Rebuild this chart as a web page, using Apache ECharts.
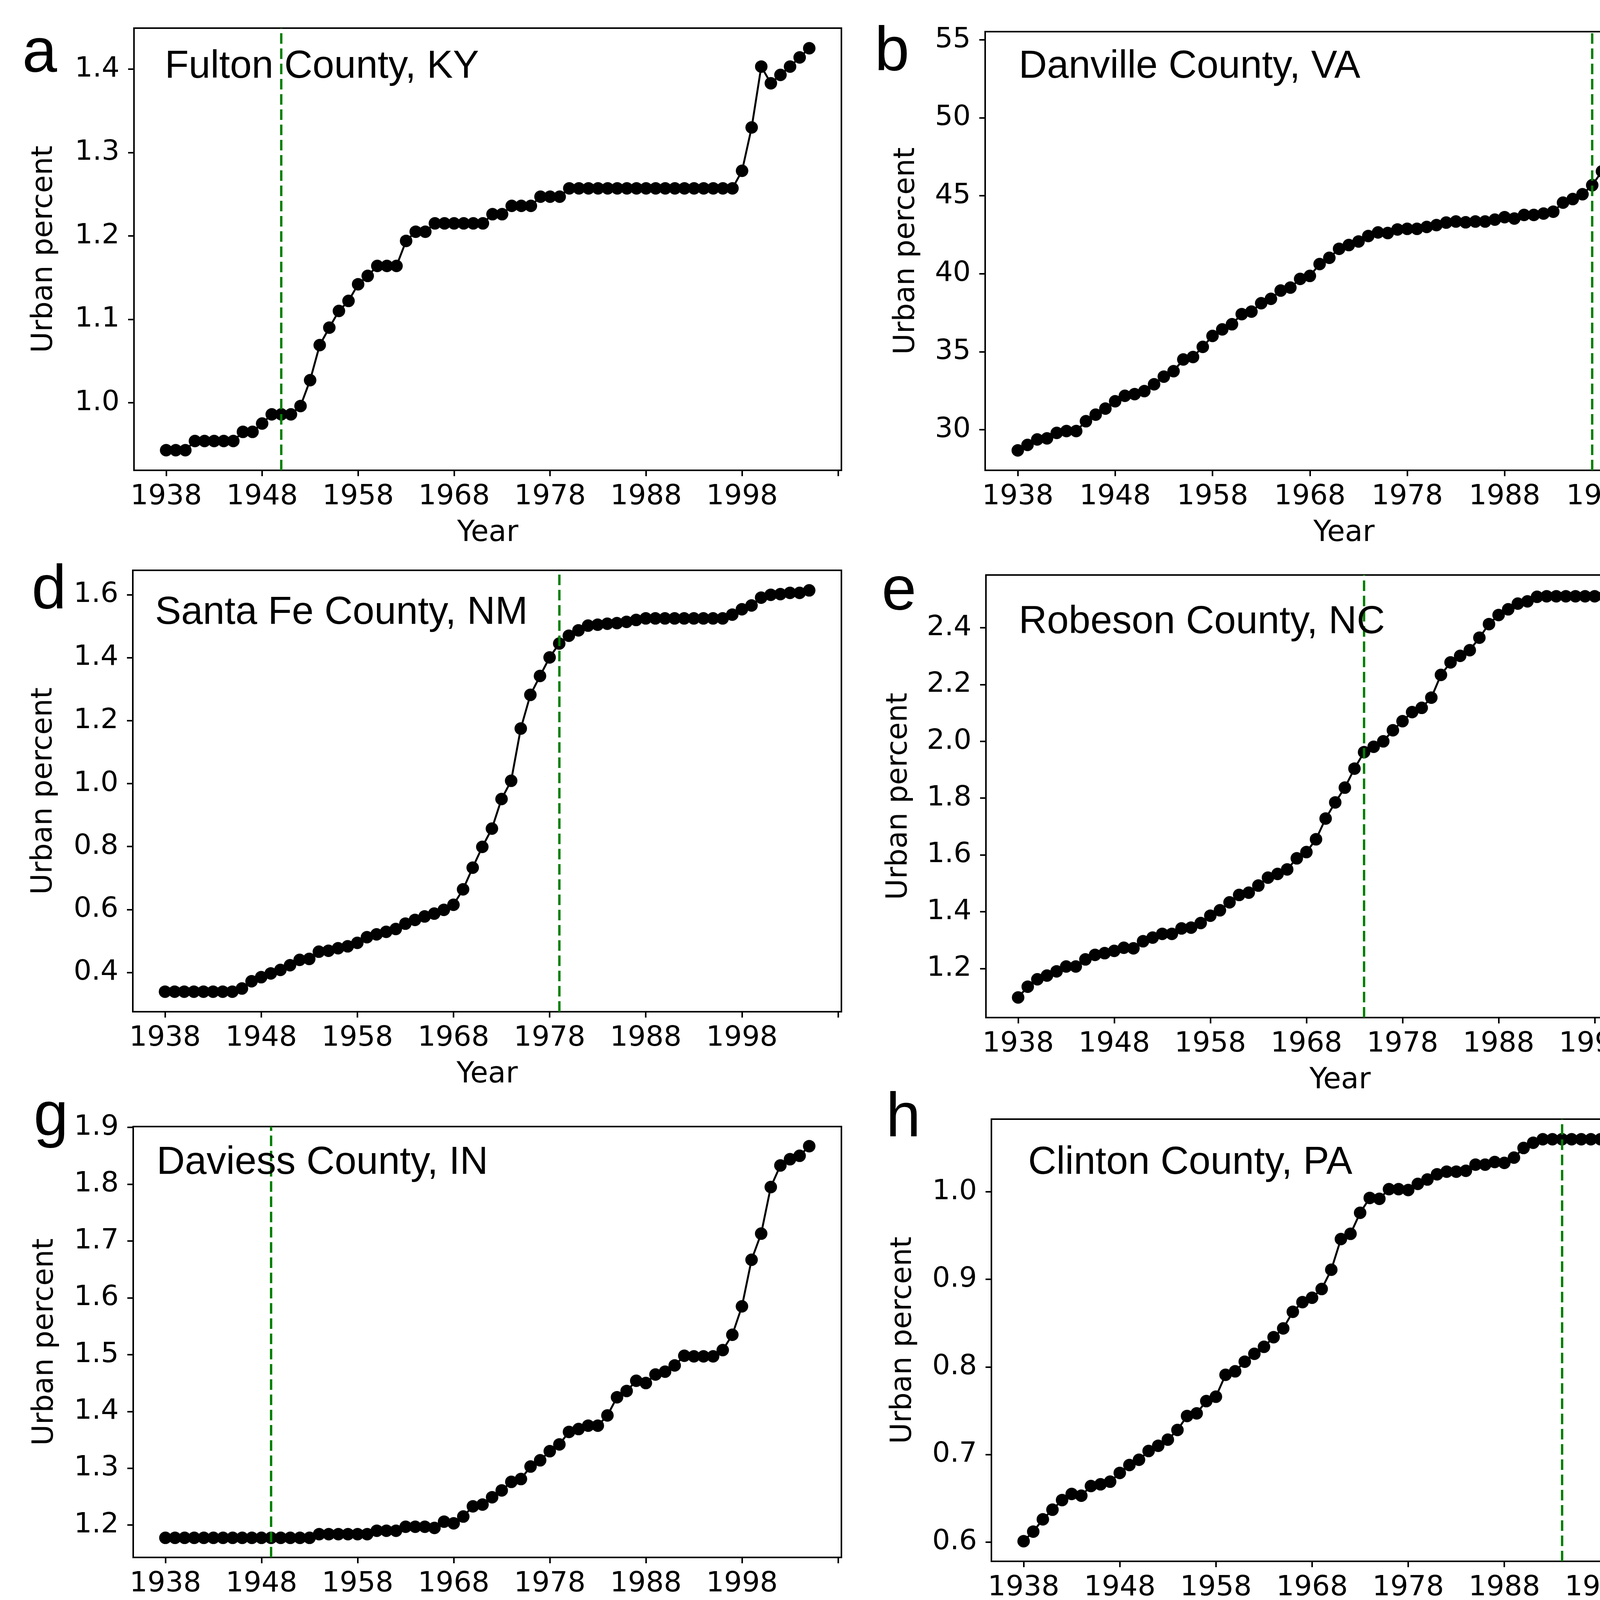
<!DOCTYPE html>
<html><head><meta charset="utf-8">
<script src="https://cdn.jsdelivr.net/npm/echarts@6/dist/echarts.min.js"></script>
<style>html,body{margin:0;padding:0;background:#fff}#c{width:6615px;height:4500px}</style>
</head><body><div id="c"></div>
<script>
// ---------------- data ----------------
const years = [1938,1939,1940,1941,1942,1943,1944,1945,1946,1947,1948,1949,1950,1951,1952,1953,1954,1955,1956,1957,
  1958,1959,1960,1961,1962,1963,1964,1965,1966,1967,1968,1969,1970,1971,1972,1973,1974,1975,1976,1977,
  1978,1979,1980,1981,1982,1983,1984,1985,1986,1987,1988,1989,1990,1991,1992,1993,1994,1995,1996,1997,
  1998,1999,2000,2001,2002,2003,2004,2005];
const xTickValues = [1938,1948,1958,1968,1978,1988,1998,2008];
const xTickLabels = [1938,1948,1958,1968,1978,1988,1998];

const panelLetters = ['a','b','c','d','e','f','g','h','i'];
const countyNames = ['Fulton County, KY','Danville County, VA','Albany County, WY','Santa Fe County, NM',
  'Robeson County, NC','Riverside County, CA','Daviess County, IN','Clinton County, PA','Slope County, ND'];
const leveeYears = [1950,1997,1986,1979,1974,1977,1949,1994,1959];

const fultonKY = [0.943,0.943,0.943,0.954,0.954,0.954,0.954,0.954,0.965,0.965,0.975,0.986,0.986,0.986,0.996,1.027,
  1.069,1.090,1.110,1.122,1.142,1.152,1.164,1.164,1.164,1.194,1.205,1.205,1.215,1.215,1.215,1.215,1.215,1.215,
  1.226,1.226,1.236,1.236,1.236,1.247,1.247,1.247,
  1.257,1.257,1.257,1.257,1.257,1.257,1.257,1.257,1.257,1.257,1.257,1.257,1.257,1.257,1.257,1.257,1.257,1.257,
  1.278,1.330,1.403,1.383,1.393,1.403,1.414,1.425];
const danvilleVA = [28.67,29.02,29.37,29.44,29.79,29.91,29.91,30.54,30.96,31.35,31.82,32.17,32.28,32.47,32.91,
  33.40,33.75,34.50,34.66,35.31,36.01,36.43,36.76,37.41,37.57,38.11,38.39,38.92,39.11,39.67,39.86,40.62,41.02,
  41.60,41.84,42.07,42.42,42.65,42.61,42.84,42.88,42.88,43.00,43.12,43.28,43.35,43.30,43.35,43.35,43.47,43.63,
  43.54,43.77,43.77,43.86,43.98,44.56,44.79,45.10,45.68,46.57,47.19,48.24,49.36,50.34,51.69,53.02,54.25];
const albanyWY = [0.1745,0.1759,0.1781,0.1799,0.1802,0.1811,0.1835,0.1844,0.1868,0.1875,0.1898,0.1926,0.1962,
  0.1965,0.1980,0.1993,0.2016,0.2038,0.2056,0.2065,0.2070,0.2079,0.2079,0.2088,0.2097,0.2110,0.2119,0.2128,
  0.2128,0.2137,0.2137,0.2188,0.2237,0.2269,0.2297,0.2333,0.2383,0.2387,0.2387,0.2391,0.2396,0.2400,0.2403,
  0.2407,0.2411,0.2416,0.2421,0.2432,0.2438,0.2559,0.2682,0.2762,0.2852,0.2957,0.3053,0.3075,0.3098,0.3120,
  0.3142,0.3153,0.3174,0.3193,0.3211,0.3350,0.3437,0.3545,0.3649,0.3750];
const santaFeNM = [0.339,0.339,0.339,0.339,0.339,0.339,0.339,0.339,0.349,0.372,0.385,0.397,0.408,0.423,0.440,
  0.443,0.466,0.469,0.477,0.483,0.494,0.512,0.521,0.529,0.538,0.555,0.567,0.578,0.587,0.599,0.615,0.664,0.733,
  0.799,0.857,0.951,1.009,1.175,1.282,1.342,1.401,1.445,1.470,1.487,1.502,1.505,1.508,1.510,1.514,1.520,1.525,
  1.525,1.525,1.525,1.525,1.525,1.525,1.525,1.525,1.537,1.554,1.566,1.591,1.600,1.602,1.606,1.606,1.614];
const robesonNC = [1.098,1.136,1.162,1.175,1.190,1.207,1.207,1.232,1.248,1.254,1.262,1.273,1.271,1.296,1.309,
  1.322,1.322,1.341,1.344,1.360,1.386,1.405,1.433,1.459,1.467,1.492,1.520,1.533,1.549,1.588,1.610,1.655,1.728,
  1.785,1.837,1.904,1.962,1.981,2.000,2.039,2.071,2.103,2.118,2.154,2.234,2.278,2.301,2.321,2.365,2.413,2.445,
  2.465,2.485,2.493,2.509,2.511,2.511,2.511,2.511,2.511,2.511,2.511,2.511,2.512,2.512,2.512,2.513,2.515];
const riversideCA = [0.49,0.53,0.61,0.66,0.73,0.80,0.84,0.96,1.10,1.20,1.31,1.52,1.78,2.06,2.34,2.62,3.00,3.32,
  3.63,3.93,4.19,4.48,4.73,5.01,5.29,5.54,5.81,6.04,6.29,6.53,6.76,7.04,7.30,7.57,7.82,8.05,8.29,8.40,8.57,8.69,
  8.78,8.90,8.94,9.04,9.08,9.16,9.25,9.34,9.41,9.48,9.55,9.69,9.78,9.88,9.93,9.95,9.97,10.02,10.09,10.21,10.35,
  10.44,10.53,10.60,10.67,10.77,10.86,10.91];
const daviessIN = [1.1775,1.1775,1.1775,1.1775,1.1775,1.1775,1.1775,1.1775,1.1775,1.1775,1.1775,1.1775,1.1775,
  1.1775,1.1775,1.1775,1.184,1.184,1.184,1.184,1.184,1.184,1.190,1.190,1.190,1.197,1.197,1.197,1.195,1.206,1.203,
  1.215,1.233,1.236,1.249,1.261,1.276,1.281,1.303,1.314,1.330,1.342,1.364,1.369,1.375,1.375,1.393,1.425,1.436,
  1.454,1.450,1.465,1.470,1.481,1.498,1.497,1.497,1.497,1.508,1.535,1.585,1.667,1.713,1.795,1.833,1.844,1.850,1.867];
const clintonPA = [0.601,0.612,0.626,0.637,0.648,0.655,0.653,0.664,0.666,0.669,0.679,0.688,0.694,0.704,0.710,
  0.717,0.728,0.744,0.747,0.761,0.766,0.791,0.795,0.806,0.815,0.823,0.834,0.844,0.863,0.874,0.879,0.889,0.911,
  0.946,0.952,0.976,0.993,0.992,1.003,1.003,1.002,1.009,1.014,1.020,1.023,1.023,1.024,1.031,1.031,1.034,1.033,
  1.039,1.050,1.056,1.060,1.060,1.060,1.060,1.060,1.060,1.060,1.060,1.060,1.060,1.060,1.060,1.060,1.060];
const slopeND = [0.00396,0.00396,0.00396,0.00396,0.00396,0.00396,0.00396,0.00396,0.00396,0.00396,0.00396,0.00396,
  0.00396,0.00396,0.00396,0.00396,0.00396,0.00396,0.00396,0.00396,
  0.00792,0.00792,0.00792,0.00792,0.00792,0.00792,0.00792,0.00792,0.00792,0.00792,0.00792,0.00792,
  0.01782,0.01782,0.01782,0.01782,0.01782,0.01782,0.01782,0.01782,0.01782,0.01782,0.01782,0.01782,0.01782,
  0.01782,0.01782,0.01782,0.01782,0.01782,0.01782,0.01782,0.01782,0.01782,0.01782,0.01782,0.01782,0.01782,
  0.01782,0.01782,0.01782,0.01782,0.01782,0.01782,0.01782,0.01782,0.01782,0.01782];

const yTicksA = [1.0,1.1,1.2,1.3,1.4];
const yTicksB = [30,35,40,45,50,55];
const yTicksC = [0.175,0.2,0.225,0.25,0.275,0.3,0.325,0.35,0.375];
const yTicksD = [0.4,0.6,0.8,1.0,1.2,1.4,1.6];
const yTicksE = [1.2,1.4,1.6,1.8,2.0,2.2,2.4];
const yTicksF = [0,2,4,6,8,10];
const yTicksG = [1.2,1.3,1.4,1.5,1.6,1.7,1.8,1.9];
const yTicksH = [0.6,0.7,0.8,0.9,1.0];
const yTicksI = [0.004,0.006,0.008,0.010,0.012,0.014,0.016,0.018];
const yDecimals = [1,0,3,1,1,0,1,1,3];
const legendLabel = 'Levee completion year';

// ---------------- layout ----------------
const seriesData = [fultonKY,danvilleVA,albanyWY,santaFeNM,robesonNC,riversideCA,daviessIN,clintonPA,slopeND];
const yTicksAll = [yTicksA,yTicksB,yTicksC,yTicksD,yTicksE,yTicksF,yTicksG,yTicksH,yTicksI];
const boxes = [[343,72,1811,1132],[2522,81,1837,1123],[4827,72,1704,1132],
               [340,1460,1814,1130],[2524,1472,1813,1133],[4703,1479,1824,1131],
               [341,2884,1813,1103],[2538,2865,1814,1132],[4830,2867,1705,1129]];
const yNameGaps = [192,164,281,190,185,162,188,188,283];
const letterPos = [[57,195],[2239,192],[4450,192],[81,1570],[2257,1572],[4478,1570],[86,2918],[2268,2921],[4475,2914]];
const notePos = [[422,206],[2608,206],[4894,197],[397,1604],[2608,1628],[4762,1628],[401,3012],[2632,3012],[4832,2985]];

const TICK_FONT = 72, NAME_FONT = 74;
const grids = [], xAxes = [], yAxes = [], series = [], graphics = [];
const xMin = years[0] - 0.05*(years[years.length-1]-years[0]);
const xMax = years[years.length-1] + 0.05*(years[years.length-1]-years[0]);

for (let k = 0; k < 9; k++) {
  const b = boxes[k];
  const d = seriesData[k];
  const dmin = Math.min(...d), dmax = Math.max(...d);
  const pad = 0.05*(dmax-dmin);
  grids.push({left:b[0], top:b[1], width:b[2], height:b[3], show:true, borderColor:'#000', borderWidth:4, backgroundColor:'transparent', containLabel:false});
  xAxes.push({
    type:'value', gridIndex:k, min:xMin, max:xMax,
    name:'Year', nameLocation:'middle', nameGap:125, nameMoveOverlap:false,
    nameTextStyle:{fontFamily:'DejaVu Sans', fontSize:NAME_FONT, color:'#000'},
    axisLine:{show:true, onZero:false, lineStyle:{color:'#000', width:4}},
    axisTick:{show:true, length:15, lineStyle:{color:'#000', width:4}, customValues:xTickValues},
    axisLabel:{show:true, margin:32, fontFamily:'DejaVu Sans', fontSize:TICK_FONT, color:'#000', customValues:xTickLabels, formatter:v=>String(Math.round(v))},
    splitLine:{show:false}
  });
  const dec = yDecimals[k];
  yAxes.push({
    type:'value', gridIndex:k, min:dmin-pad, max:dmax+pad,
    name:'Urban percent', nameLocation:'middle', nameGap:yNameGaps[k], nameRotate:90, nameMoveOverlap:false,
    nameTextStyle:{fontFamily:'DejaVu Sans', fontSize:NAME_FONT, color:'#000'},
    axisLine:{show:true, onZero:false, lineStyle:{color:'#000', width:4}},
    axisTick:{show:true, length:15, lineStyle:{color:'#000', width:4}, customValues:yTicksAll[k]},
    axisLabel:{show:true, margin:37, fontFamily:'DejaVu Sans', fontSize:TICK_FONT, color:'#000', customValues:yTicksAll[k], formatter:v=>Number(v).toFixed(dec)},
    splitLine:{show:false}
  });
  series.push({
    type:'line', xAxisIndex:k, yAxisIndex:k, z:2,
    data: years.map((y,i)=>[y, d[i]]),
    symbol:'circle', symbolSize:32, showAllSymbol:true,
    itemStyle:{color:'#000'}, lineStyle:{color:'#000', width:5},
    emphasis:{disabled:true}, animation:false
  });
  series.push({
    type:'line', xAxisIndex:k, yAxisIndex:k, z:5, data:[],
    markLine:{silent:true, symbol:['none','none'], label:{show:false}, animation:false,
      lineStyle:{color:'#008000', width:6, type:[27,12]},
      data:[{xAxis:leveeYears[k]}]}
  });
  graphics.push({type:'text', x:letterPos[k][0], y:letterPos[k][1]-56, z:10,
    style:{text:panelLetters[k], fontFamily:'Liberation Sans', fontSize:160, fill:'#000', verticalAlign:'middle', align:'left'}});
  graphics.push({type:'text', x:notePos[k][0], y:notePos[k][1]-35, z:10,
    style:{text:countyNames[k], fontFamily:'Liberation Sans', fontSize:100, fill:'#000', verticalAlign:'middle', align:'left'}});
}
graphics.push({type:'line', z:10, shape:{x1:4530, y1:4343, x2:4931, y2:4343},
  style:{stroke:'#228B22', lineWidth:13, lineDash:[39,13]}});
graphics.push({type:'text', x:5000, y:4399-47, z:10,
  style:{text:legendLabel, fontFamily:'Liberation Sans', fontSize:136, fill:'#000', verticalAlign:'middle', align:'left'}});

const chart = echarts.init(document.getElementById('c'), null, {renderer:'canvas', width:6615, height:4500});
chart.setOption({
  backgroundColor:'#fff', animation:false,
  grid:grids, xAxis:xAxes, yAxis:yAxes, series:series, graphic:graphics
});
</script></body></html>
